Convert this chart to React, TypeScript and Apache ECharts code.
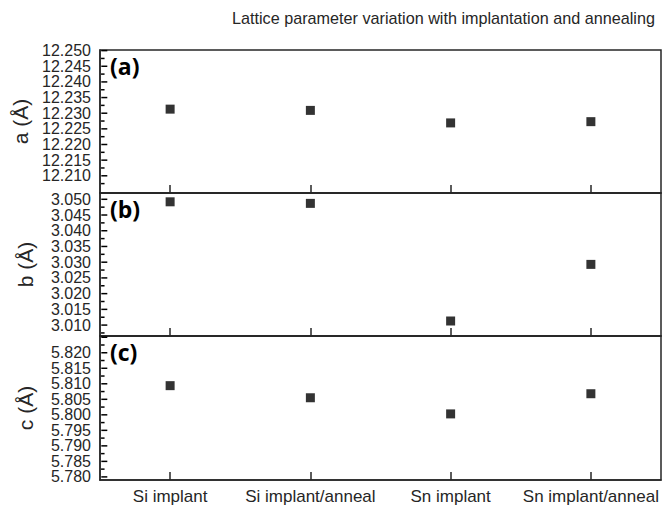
import React, { useEffect, useRef } from "react";
import * as echarts from "echarts";

const categories = ["Si implant", "Si implant/anneal", "Sn implant", "Sn implant/anneal"];
const aValues = [12.2313, 12.2309, 12.2269, 12.2273];
const bValues = [3.0492, 3.0487, 3.0113, 3.0293];
const cValues = [5.8094, 5.8055, 5.8003, 5.8068];

// tick labels (split in two alternating sets so none is dropped for overlap)
const aLabelsEven = [12.21, 12.22, 12.23, 12.24, 12.25];
const aLabelsOdd = [12.215, 12.225, 12.235, 12.245];
const bLabelsEven = [3.01, 3.02, 3.03, 3.04, 3.05];
const bLabelsOdd = [3.015, 3.025, 3.035, 3.045];
const cLabelsEven = [5.78, 5.79, 5.8, 5.81, 5.82];
const cLabelsOdd = [5.785, 5.795, 5.805, 5.815];

// tick marks
const aTicks = [12.21, 12.215, 12.22, 12.225, 12.23, 12.235, 12.24, 12.245, 12.25];
const aMinor = [12.2075, 12.2125, 12.2175, 12.2225, 12.2275, 12.2325, 12.2375, 12.2425, 12.2475];
const bTicks = [3.01, 3.015, 3.02, 3.025, 3.03, 3.035, 3.04, 3.045, 3.05];
const bMinor = [3.0075, 3.0125, 3.0175, 3.0225, 3.0275, 3.0325, 3.0375, 3.0425, 3.0475];
const cTicks = [5.78, 5.785, 5.79, 5.795, 5.8, 5.805, 5.81, 5.815, 5.82, 5.825];
const cMinor = [5.7825, 5.7875, 5.7925, 5.7975, 5.8025, 5.8075, 5.8125, 5.8175, 5.8225];

const panels = [
  { name: "a (Å)", tag: "(a)", values: aValues, ticks: aTicks, even: aLabelsEven, odd: aLabelsOdd, minor: aMinor, min: 12.2045, max: 12.2502, top: 50, height: 143 },
  { name: "b (Å)", tag: "(b)", values: bValues, ticks: bTicks, even: bLabelsEven, odd: bLabelsOdd, minor: bMinor, min: 3.00653, max: 3.052, top: 193, height: 143 },
  { name: "c (Å)", tag: "(c)", values: cValues, ticks: cTicks, even: cLabelsEven, odd: cLabelsOdd, minor: cMinor, min: 5.779, max: 5.8254, top: 336, height: 144 },
];

const FONT = "Liberation Sans, Arial, sans-serif";
const INK = "#262626";

export default function App() {
  const ref = useRef<HTMLDivElement>(null);
  useEffect(() => {
    if (!ref.current) return;
    const chart = echarts.init(ref.current, null, { renderer: "svg" });
    const grid: any[] = [];
    const xAxis: any[] = [];
    const yAxis: any[] = [];
    const series: any[] = [];
    const graphic: any[] = [];
    const labelStyle = {
      color: INK, fontSize: 16, fontFamily: FONT, margin: 9,
      showMinLabel: true, showMaxLabel: true, hideOverlap: false,
      formatter: (v: number) => v.toFixed(3),
    };
    panels.forEach((p, i) => {
      grid.push({
        left: 100, right: 1, top: p.top, height: p.height,
        show: true, borderColor: INK, borderWidth: 1.5, backgroundColor: "transparent",
      });
      xAxis.push({
        type: "category", gridIndex: i, data: categories, boundaryGap: true,
        axisLine: { show: true, lineStyle: { color: INK, width: 1.5 } },
        axisTick: { show: true, inside: true, alignWithLabel: true, length: 8, lineStyle: { color: INK, width: 1.5 } },
        axisLabel: { show: i === 2, color: INK, fontSize: 17, fontFamily: FONT, margin: 8, interval: 0 },
        splitLine: { show: false },
      });
      yAxis.push({
        type: "value", gridIndex: i, min: p.min, max: p.max, position: "left",
        name: p.name, nameLocation: "middle", nameRotate: 90, nameGap: 64,
        nameTextStyle: { color: INK, fontSize: 21, fontFamily: FONT },
        axisLine: { show: true, lineStyle: { color: INK, width: 1.5 } },
        axisTick: { show: false },
        axisLabel: { ...labelStyle, customValues: p.even },
        splitLine: { show: false },
      });
      yAxis.push({
        type: "value", gridIndex: i, min: p.min, max: p.max, position: "left",
        axisLine: { show: false },
        axisTick: { show: false },
        axisLabel: { ...labelStyle, customValues: p.odd },
        splitLine: { show: false },
      });
    });
    panels.forEach((p, i) => {
      xAxis.push({
        type: "value", gridIndex: i, min: 0, max: 100, show: false,
        axisLine: { show: false }, axisTick: { show: false }, axisLabel: { show: false }, splitLine: { show: false },
      });
    });
    panels.forEach((p, i) => {
      series.push({
        type: "scatter", xAxisIndex: i, yAxisIndex: 2 * i,
        data: p.values, symbol: "rect", symbolSize: 9,
        itemStyle: { color: "#000" }, z: 5,
      });
      series.push({
        type: "scatter", xAxisIndex: 3 + i, yAxisIndex: 2 * i, silent: true, clip: false,
        data: p.ticks.map((v) => [0.5, v]), symbol: "rect", symbolSize: [6, 1.5], symbolOffset: [1.5, 0],
        itemStyle: { color: "#000", opacity: 1 }, z: 20,
      });
      series.push({
        type: "scatter", xAxisIndex: 3 + i, yAxisIndex: 2 * i, silent: true, clip: false,
        data: p.minor.map((v) => [0.5, v]), symbol: "rect", symbolSize: [3.5, 1.5], symbolOffset: [0, 0],
        itemStyle: { color: "#000", opacity: 1 }, z: 20,
      });
      graphic.push({
        type: "text", left: 110, top: p.top + 4,
        style: { text: p.tag, fontSize: 23, fontWeight: "bold", fontFamily: "Open Sans, sans-serif", fill: "#000" },
      });
    });
    chart.setOption({
      animation: false,
      backgroundColor: "#fff",
      title: {
        text: "Lattice parameter variation with implantation and annealing",
        left: 227, top: 5,
        textStyle: { color: INK, fontSize: 16.2, fontWeight: "normal", fontFamily: FONT },
      },
      grid, xAxis, yAxis, series, graphic,
    });
    return () => chart.dispose();
  }, []);
  return <div ref={ref} style={{ position: "absolute", left: 0, top: 0, width: 662, height: 506 }} />;
}
